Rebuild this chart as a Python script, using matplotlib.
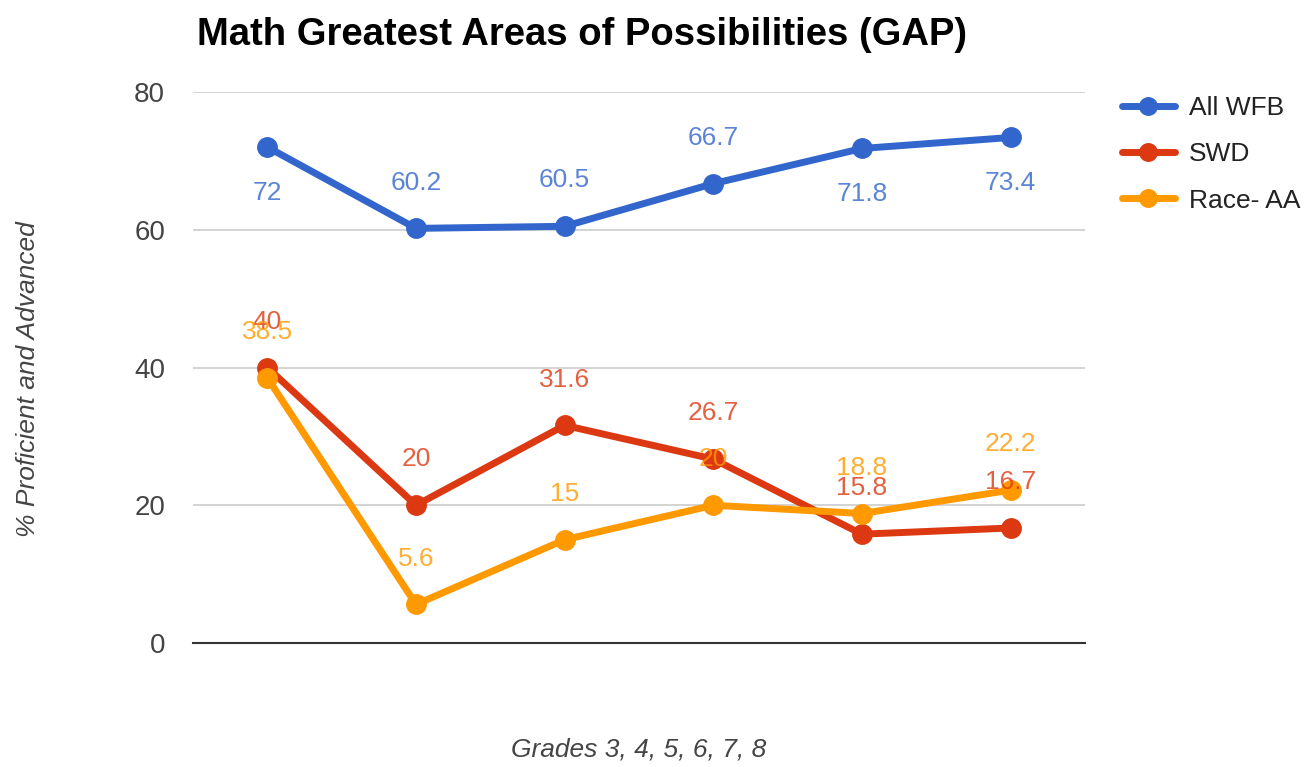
import matplotlib.pyplot as plt

plt.rcParams['font.family'] = ['Liberation Sans', 'DejaVu Sans']

grades = ['3', '4', '5', '6', '7', '8']
all_wfb = [72, 60.2, 60.5, 66.7, 71.8, 73.4]
swd = [40, 20, 31.6, 26.7, 15.8, 16.7]
race_aa = [38.5, 5.6, 15, 20, 18.8, 22.2]

series = [
    ('All WFB', all_wfb, '#3366cc', [-1, 1, 1, 1, -1, -1]),
    ('SWD', swd, '#dc3912', [1, 1, 1, 1, 1, 1]),
    ('Race- AA', race_aa, '#ff9900', [1, 1, 1, 1, 1, 1]),
]

fig = plt.figure(figsize=(13.16, 7.67), dpi=100)
ax = fig.add_axes([193 / 1316, 1 - 643 / 767, 892 / 1316, 551 / 767])

x = list(range(len(grades)))
for name, vals, color, sides in series:
    ax.plot(x, vals, color=color, lw=5, marker='o', ms=14,
            label=name, solid_capstyle='round', zorder=3)

# value labels on top of all lines (they overlap in the original too)
for name, vals, color, sides in series:
    for xi, v, s in zip(x, vals, sides):
        ax.annotate(f'{v:g}', (xi, v), xytext=(0, 33 * s),
                    textcoords='offset points', ha='center', va='center',
                    fontsize=19, color=color, alpha=0.8, zorder=5)

ax.set_xlim(-0.5, len(grades) - 0.5)
ax.set_ylim(0, 80)
ax.set_yticks([0, 20, 40, 60, 80])
ax.set_xticks([])
ax.grid(axis='y', color='#cccccc', lw=1.2, zorder=0)
ax.axhline(0, color='#333333', lw=1.5, zorder=2, clip_on=False)
for sp in ax.spines.values():
    sp.set_visible(False)
ax.tick_params(axis='y', length=0, pad=20, labelsize=20, labelcolor='#444444')

fig.text(197 / 1316, 1 - 35 / 767, 'Math Greatest Areas of Possibilities (GAP)',
         fontsize=27.5, fontweight='bold', ha='left', va='center', color='black')
fig.text(28 / 1316, 1 - 379 / 767, '% Proficient and Advanced', rotation=90,
         fontsize=19, style='italic', ha='center', va='center', color='#444444')
fig.text(639 / 1316, 1 - 750 / 767, 'Grades 3, 4, 5, 6, 7, 8',
         fontsize=19, style='italic', ha='center', va='center', color='#444444')

leg = ax.legend(loc='upper left', bbox_to_anchor=(1098 / 1316, 1 - 72 / 767),
                bbox_transform=fig.transFigure, frameon=False, fontsize=19,
                handlelength=2.0, handletextpad=0.55, labelspacing=0.85,
                markerscale=0.9)
for t in leg.get_texts():
    t.set_color('#222222')

fig.savefig('out.png', dpi=100, facecolor='white')
